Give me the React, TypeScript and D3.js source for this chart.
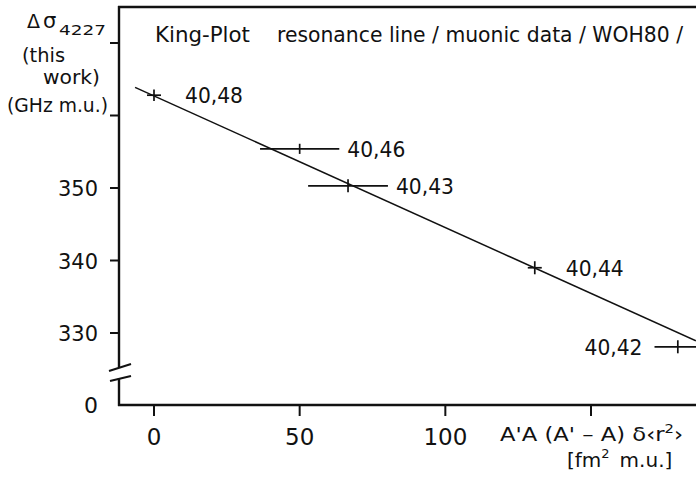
import React from "react";
import * as d3 from "d3";

// ---- data ----
const isotopeLabels = ["40,48", "40,46", "40,43", "40,44", "40,42"];
const xValues = [0, 50, 66.6, 130.7, 179.8];
const yValues = [362.8, 355.4, 350.3, 339.0, 328.1];
const xErrLow = [2.4, 13.6, 13.7, 2.4, 8.0];
const xErrHigh = [2.4, 13.6, 13.7, 2.4, 8.0];
const yErr = [0.8, 0.7, 0.9, 0.9, 0.9];
const labelSide = ["right", "right", "right", "right", "left"];

const fitX = [-6.5, 186];
const fitIntercept = 362.7;
const fitSlope = -0.1816;

const yTicks = [330, 340, 350, 360, 370];
const yTickLabels = ["330", "340", "350", "", ""];
const xTicks = [0, 50, 100, 150];
const xTickLabels = ["0", "50", "100", ""];

const FONT = "'DejaVu Sans', sans-serif";

export default function App() {
  const W = 696;
  const H = 477;
  const axisX = 119;
  const axisY = 405;
  const topY = 7;

  const x = d3.scaleLinear().domain([0, 150]).range([154, 591]);
  const y = d3.scaleLinear().domain([330, 370]).range([333, 43]);

  const line = d3
    .line<number>()
    .x((v) => x(v))
    .y((v) => y(fitIntercept + fitSlope * v));

  const sw = 1.7;
  const ink = "#111";

  return (
    <svg
      width={W}
      height={H}
      style={{ position: "absolute", left: 0, top: 0, background: "#fff" }}
      fontFamily={FONT}
      fill={ink}
    >
      <rect x={0} y={0} width={W} height={H} fill="#fff" />
      <defs>
        <clipPath id="plotclip">
          <rect x={axisX} y={topY} width={W - axisX} height={axisY - topY} />
        </clipPath>
      </defs>

      {/* frame: top border, left axis (broken), bottom axis */}
      <line x1={axisX - 1} y1={topY} x2={W} y2={topY} stroke={ink} strokeWidth={2.4} />
      <line x1={axisX} y1={topY - 1} x2={axisX} y2={367} stroke={ink} strokeWidth={2.4} />
      <line x1={axisX} y1={378} x2={axisX} y2={axisY + 1} stroke={ink} strokeWidth={2.4} />
      <line x1={axisX - 1} y1={axisY} x2={W} y2={axisY} stroke={ink} strokeWidth={2.4} />
      {/* break marks */}
      <line x1={109} y1={371} x2={131} y2={364} stroke={ink} strokeWidth={2} />
      <line x1={110} y1={381} x2={131} y2={376} stroke={ink} strokeWidth={2} />

      {/* y ticks */}
      {yTicks.map((t, i) => (
        <g key={"yt" + t}>
          <line x1={axisX - 9} y1={y(t)} x2={axisX} y2={y(t)} stroke={ink} strokeWidth={2} />
          {yTickLabels[i] && (
            <text x={98} y={y(t) + 8} textAnchor="end" fontSize={22} textLength={40} lengthAdjust="spacingAndGlyphs">
              {yTickLabels[i]}
            </text>
          )}
        </g>
      ))}
      <text x={98} y={axisY + 8} textAnchor="end" fontSize={22}>
        0
      </text>

      {/* x ticks */}
      {xTicks.map((t, i) => (
        <g key={"xt" + t}>
          <line x1={x(t)} y1={axisY} x2={x(t)} y2={axisY + 11} stroke={ink} strokeWidth={2} />
          {xTickLabels[i] && (
            <text x={x(t)} y={445} textAnchor="middle" fontSize={23}>
              {xTickLabels[i]}
            </text>
          )}
        </g>
      ))}

      {/* y-axis title */}
      <text x={27} y={28} fontSize={19}>Δ</text>
      <text x={43} y={28} fontSize={21}>σ</text>
      <text x={59} y={35} fontSize={14} textLength={47} lengthAdjust="spacingAndGlyphs">4227</text>
      <text x={22} y={62} fontSize={19} textLength={43} lengthAdjust="spacingAndGlyphs">(this</text>
      <text x={43} y={84} fontSize={19} textLength={57} lengthAdjust="spacingAndGlyphs">work)</text>
      <text x={7} y={112} fontSize={19} textLength={101} lengthAdjust="spacingAndGlyphs">(GHz m.u.)</text>

      {/* x-axis title */}
      <text x={500} y={441} fontSize={20} textLength={183} lengthAdjust="spacingAndGlyphs">
        A'A (A' – A) δ‹r<tspan fontSize={13} dy={-8}>2</tspan>
        <tspan dy={8}>›</tspan>
      </text>
      <text x={567} y={467} fontSize={20}>
        [fm<tspan fontSize={13} dy={-9}>2</tspan>
        <tspan dy={9} dx={10}>m.u.]</tspan>
      </text>

      {/* chart title */}
      <text x={155} y={42} fontSize={21} textLength={95} lengthAdjust="spacingAndGlyphs">
        King-Plot
      </text>
      <text x={277} y={42} fontSize={20.5} textLength={406} lengthAdjust="spacingAndGlyphs">
        resonance line / muonic data / WOH80 /
      </text>

      <g clipPath="url(#plotclip)">
        {/* fit line */}
        <path d={line(fitX) || ""} fill="none" stroke={ink} strokeWidth={1.5} />

        {/* data points with error bars */}
        {xValues.map((xv, i) => {
          const cx = x(xv);
          const cy = y(yValues[i]);
          const xl = x(xv - xErrLow[i]);
          const xr = x(xv + xErrHigh[i]);
          const yt = y(yValues[i] + yErr[i]);
          const yb = y(yValues[i] - yErr[i]);
          return (
            <g key={"p" + i}>
              <line x1={xl} y1={cy} x2={xr} y2={cy} stroke={ink} strokeWidth={sw} />
              <line x1={cx} y1={yt} x2={cx} y2={yb} stroke={ink} strokeWidth={sw} />
            </g>
          );
        })}
      </g>

      {/* point labels */}
      {xValues.map((xv, i) => {
        const cx = x(xv);
        const cy = y(yValues[i]);
        const xl = x(xv - xErrLow[i]);
        const xr = x(xv + xErrHigh[i]);
        const right = labelSide[i] === "right";
        const lx = right ? Math.max(cx + 31, xr + 8) : xl - 70;
        return (
          <text
            key={"l" + i}
            x={lx}
            y={cy + 8}
            fontSize={22}
            textLength={58}
            lengthAdjust="spacingAndGlyphs"
          >
            {isotopeLabels[i]}
          </text>
        );
      })}
    </svg>
  );
}
